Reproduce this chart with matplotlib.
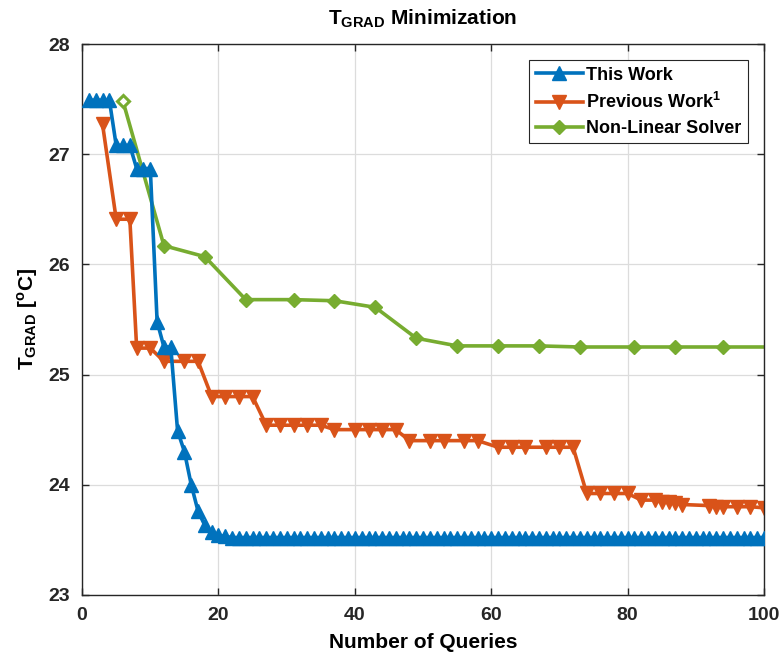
import numpy as np
import matplotlib
matplotlib.use('Agg')
import matplotlib.pyplot as plt

plt.rcParams['font.family'] = ['Liberation Sans', 'DejaVu Sans']
plt.rcParams['font.weight'] = 'bold'
plt.rcParams['mathtext.fontset'] = 'custom'
plt.rcParams['mathtext.rm'] = 'Liberation Sans:bold'
plt.rcParams['mathtext.bf'] = 'Liberation Sans:bold'

# This Work: one point per query, 1..100
this_x = np.arange(1, 101)
this_y = ([27.49] * 4 + [27.08] * 3 + [26.87] * 3 +
          [25.48, 25.25, 25.25, 24.49, 24.30, 24.00, 23.76, 23.63, 23.57, 23.54, 23.53] +
          [23.52] * 79)

# Previous Work^1
prev_x = [3, 5, 7, 8, 10, 12, 15, 17, 19, 21, 23, 25, 27, 29, 31, 33, 35,
          37, 40, 42, 44, 46, 48, 51, 53, 56, 58, 61, 63, 65, 68, 70, 72,
          74, 76, 78, 80, 82, 84, 85, 86, 87, 88, 92, 93, 94, 96, 98, 100]
prev_y = [27.27, 26.41, 26.41, 25.24, 25.24, 25.12, 25.12, 25.12,
          24.80, 24.80, 24.80, 24.80,
          24.54, 24.54, 24.54, 24.54, 24.54,
          24.50, 24.50, 24.50, 24.50, 24.50,
          24.40, 24.40, 24.40, 24.40, 24.40,
          24.34, 24.34, 24.34, 24.34, 24.34, 24.34,
          23.92, 23.92, 23.92, 23.92,
          23.86, 23.86, 23.84, 23.84, 23.83, 23.82,
          23.81, 23.80, 23.80, 23.80, 23.80, 23.79]

# Non-Linear Solver
nls_x = [6, 12, 18, 24, 31, 37, 43, 49, 55, 61, 67, 73, 81, 87, 94, 100]
nls_y = [27.48, 26.17, 26.07, 25.68, 25.68, 25.67, 25.61, 25.33, 25.26,
         25.26, 25.26, 25.25, 25.25, 25.25, 25.25, 25.25]

blue = '#0072BD'
orange = '#D95319'
green = '#77AC30'

fig = plt.figure(figsize=(7.82, 6.58), dpi=100)
ax = fig.add_axes([0.105, 0.096, 0.872, 0.837])

ax.plot(this_x, this_y, color=blue, lw=2.6, marker='^', ms=10,
        mfc=blue, mec=blue, label='This Work', zorder=3)
ax.plot(prev_x, prev_y, color=orange, lw=2.6, marker='v', ms=10,
        mfc=orange, mec=orange, label=r'Previous Work$^{1}$', zorder=2)
ax.plot(nls_x, nls_y, color=green, lw=2.6, marker='D', ms=7.5,
        mfc=green, mec=green, markevery=list(range(1, len(nls_x) - 1)),
        label='Non-Linear Solver', zorder=2)
# first solver point drawn open
ax.plot(nls_x[0], nls_y[0], ls='none', marker='D', ms=6.5, mfc='white',
        mec=green, mew=2.2, zorder=2)

ax.set_xlim(0, 100)
ax.set_ylim(23, 28)
ax.set_xticks(np.arange(0, 101, 20))
ax.set_yticks(np.arange(23, 29, 1))
ax.grid(True, color='#dcdcdc', lw=0.9)
ax.set_axisbelow(True)
ax.tick_params(direction='in', top=True, right=True, labelsize=14,
               length=5, width=1, colors='#262626', pad=9)
for lab in ax.get_xticklabels() + ax.get_yticklabels():
    lab.set_fontweight('bold')
for s in ax.spines.values():
    s.set_color('#262626')
    s.set_linewidth(1)

ax.set_title(r'$\mathbf{T_{GRAD}}$ Minimization', fontsize=15,
             fontweight='bold', pad=14)
ax.set_xlabel('Number of Queries', fontsize=15, fontweight='bold', labelpad=6)
ax.set_ylabel(r'$\mathbf{T_{GRAD}}$ [$^{\mathbf{o}}$C]', fontsize=15,
              fontweight='bold', labelpad=6)

leg = ax.legend(loc='upper right', fontsize=13, fancybox=False,
                edgecolor='#262626', framealpha=1, handlelength=2.6,
                borderaxespad=0.9, labelspacing=0.45, handletextpad=0.2,
                borderpad=0.35)
leg.get_frame().set_linewidth(0.8)
for t in leg.get_texts():
    t.set_fontweight('bold')

fig.savefig('out.png', dpi=100)
